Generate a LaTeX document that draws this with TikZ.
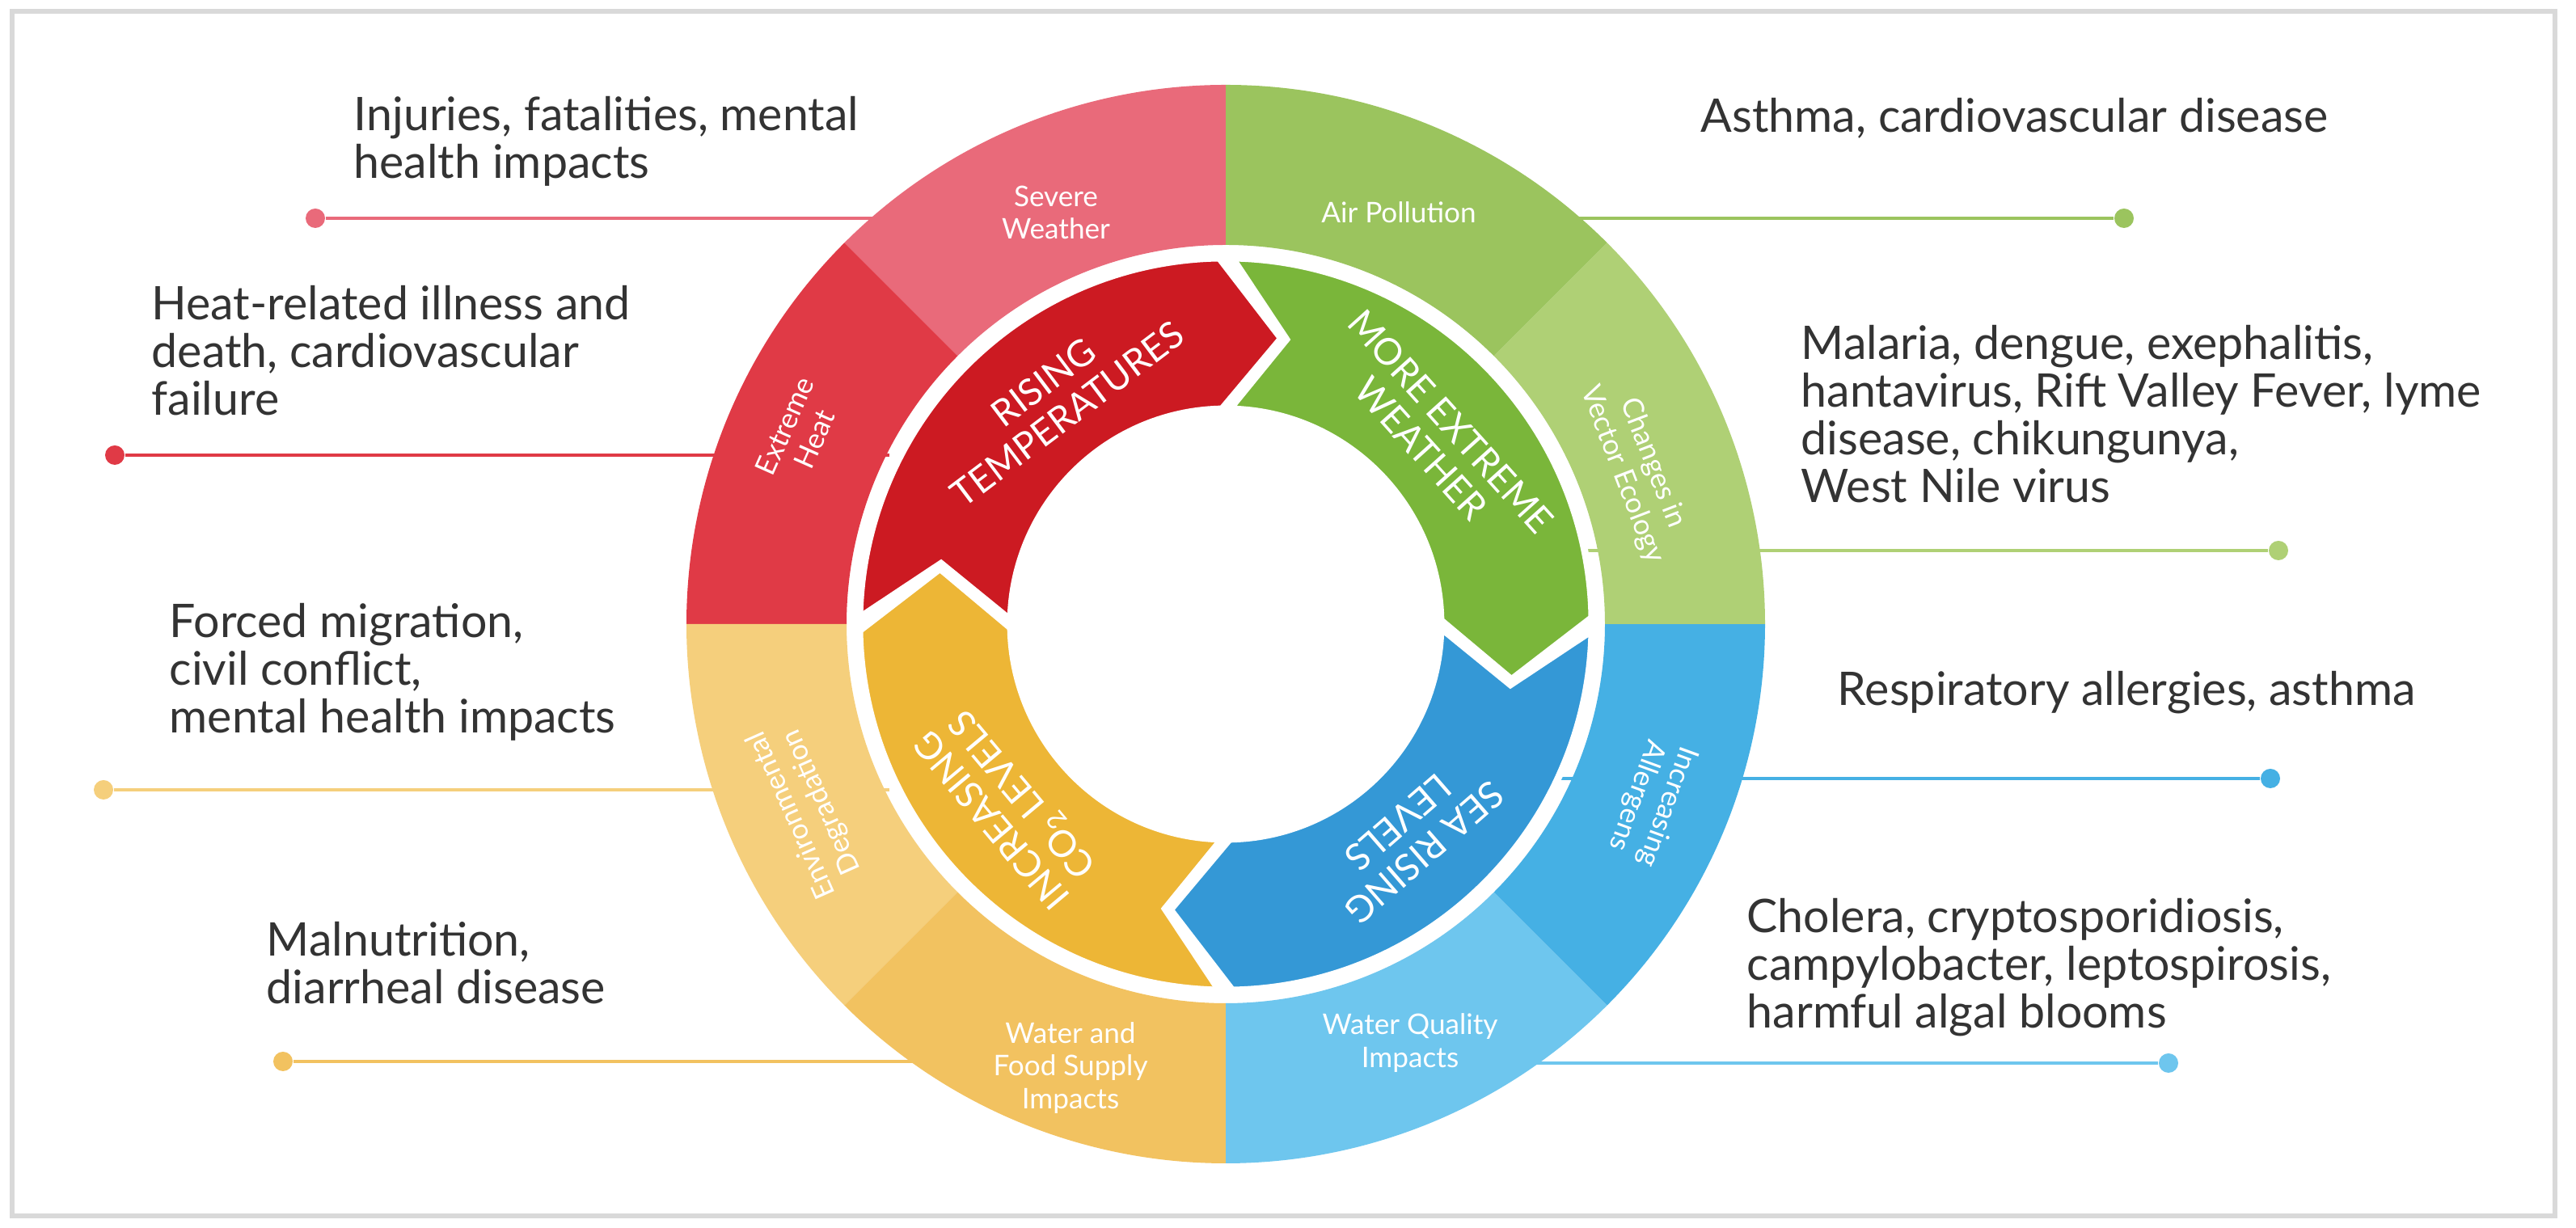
\documentclass[tikz,border=0pt]{standalone}
\usepackage{fontspec}
\setmainfont{Lato}
\begin{document}
\begin{tikzpicture}
\definecolor{txt}{HTML}{333333}
\definecolor{cSev}{HTML}{E96A7A}\definecolor{cHeat}{HTML}{E03A46}
\definecolor{cEnv}{HTML}{F5CF7C}\definecolor{cFood}{HTML}{F2C260}
\definecolor{cWQ}{HTML}{6EC6EE}\definecolor{cAll}{HTML}{45B0E4}
\definecolor{cVec}{HTML}{AFD075}\definecolor{cAir}{HTML}{9BC45E}
\definecolor{aRed}{HTML}{CC1A22}\definecolor{aGreen}{HTML}{7AB63A}
\definecolor{aBlue}{HTML}{3498D6}\definecolor{aYel}{HTML}{EDB636}
\tikzset{
 lbl/.style={font=\fontsize{16.3}{16.8}\selectfont, text=txt, align=left, anchor=west, inner sep=0pt},
 dotnode/.style={circle, fill=#1, inner sep=0pt, minimum size=0.24cm},
 conn/.style={draw=#1, line width=1pt},
 ring/.style={font=\fontsize{10}{11.5}\selectfont, text=white, align=center, inner sep=0pt},
 arr/.style={font=\fontsize{13}{14}\selectfont, text=white, align=center, inner sep=0pt},
}
\useasboundingbox (0,0) rectangle (31.86,15.19);
\draw[black!15, line width=1.5pt, fill=white] (0.15,0.15) rectangle (31.6,15.05);
\coordinate (C) at (15.16,7.47);
% connectors
\node[dotnode=cSev] (d1) at (3.90,12.49) {};
\node[dotnode=cHeat] (d2) at (1.42,9.56) {};
\node[dotnode=cEnv] (d3) at (1.28,5.42) {};
\node[dotnode=cFood] (d4) at (3.50,2.06) {};
\node[dotnode=cAir] (d5) at (26.27,12.49) {};
\node[dotnode=cVec] (d6) at (28.18,8.38) {};
\node[dotnode=cAll] (d7) at (28.08,5.56) {};
\node[dotnode=cWQ] (d8) at (26.82,2.04) {};
\coordinate (e1) at (12,12.49);\coordinate (e2) at (11,9.56);
\coordinate (e3) at (11,5.42);\coordinate (e4) at (12,2.06);
\coordinate (e5) at (18,12.49);\coordinate (e6) at (19,8.38);
\coordinate (e7) at (19,5.56);\coordinate (e8) at (18,2.04);
\draw[conn=cSev] (d1) -- (e1);\draw[conn=cHeat] (d2) -- (e2);
\draw[conn=cEnv] (d3) -- (e3);\draw[conn=cFood] (d4) -- (e4);
\draw[conn=cAir] (d5) -- (e5);\draw[conn=cVec] (d6) -- (e6);
\draw[conn=cAll] (d7) -- (e7);\draw[conn=cWQ] (d8) -- (e8);
% outer ring
\begin{scope}[shift={(C)}]
\foreach \a/\c in {90/cSev,135/cHeat,180/cEnv,225/cFood,270/cWQ,315/cAll,0/cVec,45/cAir}{
 \pgfmathsetmacro{\b}{\a+45}
 \fill[\c] (\a:6.67) arc[start angle=\a, end angle=\b, radius=6.67] -- (\b:4.69) arc[start angle=\b, end angle=\a, radius=4.69] -- cycle;
}
\foreach \T/\c in {180/aRed,90/aGreen,0/aBlue,-90/aYel}{
 \pgfmathsetmacro{\sa}{\T-1}\pgfmathsetmacro{\ea}{\T-89}
 \pgfmathsetmacro{\tp}{\T-101}\pgfmathsetmacro{\nt}{\T-12}
 \filldraw[fill=\c, draw=white, line width=2.5pt, line join=miter] (\sa:4.53) arc[start angle=\sa, end angle=\ea, radius=4.53] -- (\tp:3.60) -- (\ea:2.66) arc[start angle=\ea, end angle=\sa, radius=2.66] -- (\nt:3.60) -- cycle;
}
\node[ring] (r1) at (-2.10,5.09) {Severe\\Weather};
\node[ring] (r2) at (2.14,5.09) {Air Pollution};
\node[ring, rotate=66] (r3) at (-5.27,2.37) {Extreme\\Heat};
\node[ring, rotate=-69] (r4) at (5.09,1.92) {Changes in\\Vector Ecology};
\node[ring, rotate=114] (r5) at (-5.18,-2.28) {Environmental\\Degradation};
\node[ring, rotate=-110] (r6) at (5.27,-2.19) {Increasing\\Allergens};
\node[ring] (r7) at (-1.92,-5.49) {Water and\\Food Supply\\Impacts};
\node[ring] (r8) at (2.28,-5.18) {Water Quality\\Impacts};
\node[arr, rotate=37] (a1) at (127:3.5) {RISING\\TEMPERATURES};
\node[arr, rotate=-48] (a2) at (42:3.5) {MORE EXTREME\\WEATHER};
\node[arr, rotate=-139] (a3) at (-49:3.5) {SEA RISING\\LEVELS};
\node[arr, rotate=130] (a4) at (220:3.5) {INCREASING\\CO\textsubscript{2} LEVELS};
\end{scope}
% labels
\node[lbl] (t1) at (4.37,13.445) {Injuries, fatalities, mental\\health impacts};
\node[lbl] (t2) at (1.87,10.85) {Heat-related illness and\\death, cardiovascular\\failure};
\node[lbl] (t3) at (2.09,6.88) {Forced migration,\\civil conflict,\\mental health impacts};
\node[lbl] (t4) at (3.29,3.275) {Malnutrition,\\diarrheal disease};
\node[lbl] (t5) at (21.03,13.73) {Asthma, cardiovascular disease};
\node[lbl] (t6) at (22.27,10.07) {Malaria, dengue, exephalitis,\\hantavirus, Rift Valley Fever, lyme\\disease, chikungunya,\\West Nile virus};
\node[lbl] (t7) at (22.72,6.62) {Respiratory allergies, asthma};
\node[lbl] (t8) at (21.60,3.22) {Cholera, cryptosporidiosis,\\campylobacter, leptospirosis,\\harmful algal blooms};
\end{tikzpicture}
\end{document}
